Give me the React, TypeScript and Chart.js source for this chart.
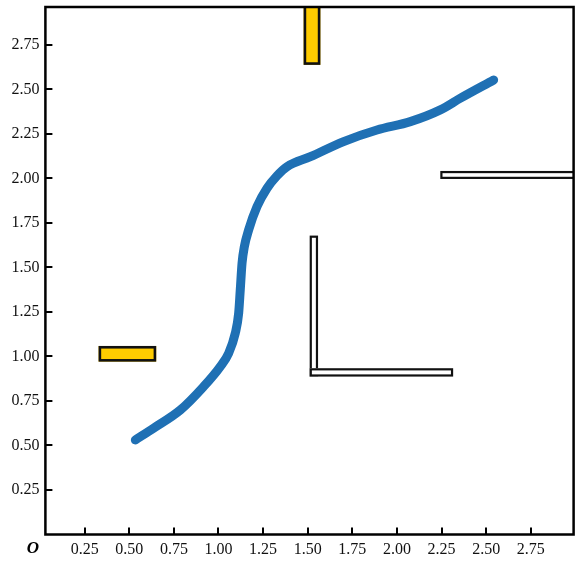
import React, { useEffect, useRef } from "react";
import { Chart, registerables } from "chart.js";

Chart.register(...registerables);

// Blue curve (data coordinates)
const curveX = [0.534, 0.636, 0.786, 0.916, 1.01, 1.057, 1.094, 1.113, 1.122, 1.132, 1.145, 1.169, 1.216, 1.272, 1.328, 1.384, 1.515, 1.701, 1.888, 2.075, 2.243, 2.356, 2.542];
const curveY = [0.531, 0.597, 0.699, 0.83, 0.943, 1.018, 1.13, 1.243, 1.374, 1.524, 1.617, 1.711, 1.842, 1.945, 2.015, 2.066, 2.122, 2.207, 2.272, 2.319, 2.385, 2.451, 2.553];

// Rectangular blocks (data coordinates)
const blockX0 = [0.328, 1.477, 1.511, 1.511, 2.243];
const blockX1 = [0.651, 1.571, 1.558, 2.315, 3.2];
const blockY0 = [0.971, 2.638, 0.887, 0.887, 1.997];
const blockY1 = [1.059, 3.2, 1.679, 0.934, 2.042];
const blockKind = ["yellow", "yellow", "white", "white", "white"];

// Tick labels
const xTickValues = [0.25, 0.5, 0.75, 1.0, 1.25, 1.5, 1.75, 2.0, 2.25, 2.5, 2.75];
const yTickValues = [0.25, 0.5, 0.75, 1.0, 1.25, 1.5, 1.75, 2.0, 2.25, 2.5, 2.75];
const originLabel = "O";

const decorPlugin = {
  id: "decor",
  beforeDatasetsDraw(chart: any) {
    const { ctx, chartArea, scales } = chart;
    const xs = scales.x;
    const ys = scales.y;
    ctx.save();
    ctx.beginPath();
    ctx.rect(chartArea.left, chartArea.top, chartArea.right - chartArea.left, chartArea.bottom - chartArea.top);
    ctx.clip();
    for (let i = 0; i < blockX0.length; i++) {
      const x0 = xs.getPixelForValue(blockX0[i]);
      const x1 = xs.getPixelForValue(blockX1[i]);
      const y0 = ys.getPixelForValue(blockY1[i]);
      const y1 = ys.getPixelForValue(blockY0[i]);
      const yellow = blockKind[i] === "yellow";
      const lw = yellow ? 2.6 : 2.2;
      ctx.fillStyle = yellow ? "#ffcc00" : "#ffffff";
      ctx.strokeStyle = "#111111";
      ctx.lineWidth = lw;
      ctx.fillRect(x0, y0, x1 - x0, y1 - y0);
      ctx.strokeRect(x0 + lw / 2, y0 + lw / 2, x1 - x0 - lw, y1 - y0 - lw);
    }
    ctx.restore();
  },
  afterDraw(chart: any) {
    const { ctx, chartArea, scales } = chart;
    const xs = scales.x;
    const ys = scales.y;
    ctx.save();
    ctx.strokeStyle = "#000";
    ctx.lineWidth = 2.5;
    ctx.strokeRect(chartArea.left, chartArea.top, chartArea.right - chartArea.left, chartArea.bottom - chartArea.top);
    ctx.lineWidth = 2;
    ctx.beginPath();
    xTickValues.forEach((v) => {
      const px = Math.round(xs.getPixelForValue(v));
      ctx.moveTo(px, chartArea.bottom);
      ctx.lineTo(px, chartArea.bottom - 7);
    });
    yTickValues.forEach((v) => {
      const py = Math.round(ys.getPixelForValue(v));
      ctx.moveTo(chartArea.left, py);
      ctx.lineTo(chartArea.left + 7, py);
    });
    ctx.stroke();
    ctx.fillStyle = "#000";
    ctx.font = "bold italic 17px 'Liberation Serif', serif";
    ctx.textAlign = "center";
    ctx.textBaseline = "middle";
    ctx.fillText(originLabel, 33, 549);
    ctx.restore();
  },
};

export default function App() {
  const canvasRef = useRef<HTMLCanvasElement | null>(null);

  useEffect(() => {
    if (!canvasRef.current) return;
    const points = curveX.map((x, i) => ({ x, y: curveY[i] }));
    const tickFont = { family: "'Liberation Serif', 'Times New Roman', serif", size: 16 };
    const chart = new Chart(canvasRef.current, {
      type: "line",
      data: {
        datasets: [
          {
            data: points,
            borderColor: "#1f70b4",
            borderWidth: 9,
            borderCapStyle: "round",
            borderJoinStyle: "round",
            pointRadius: 0,
            cubicInterpolationMode: "monotone",
            fill: false,
          },
        ],
      },
      options: {
        animation: false,
        responsive: false,
        maintainAspectRatio: false,
        layout: { padding: { top: 7, right: 9.4, left: 0, bottom: 0 } },
        plugins: { legend: { display: false }, tooltip: { enabled: false } },
        scales: {
          x: {
            type: "linear",
            min: 0.03,
            max: 2.99,
            afterBuildTicks: (scale: any) => {
              scale.ticks = xTickValues.map((v) => ({ value: v }));
            },
            afterFit: (scale: any) => {
              scale.height = 29.5;
              scale.paddingLeft = 0;
              scale.paddingRight = 0;
            },
            grid: { display: false, drawTicks: false, tickLength: 0 },
            border: { display: false },
            ticks: {
              font: tickFont,
              color: "#111",
              padding: 6,
              maxRotation: 0,
              autoSkip: false,
              callback: (v: any) => Number(v).toFixed(2),
            },
          },
          y: {
            type: "linear",
            min: 0,
            max: 2.963,
            afterBuildTicks: (scale: any) => {
              scale.ticks = yTickValues.map((v) => ({ value: v }));
            },
            afterFit: (scale: any) => {
              scale.width = 45.4;
              scale.paddingTop = 0;
              scale.paddingBottom = 0;
            },
            grid: { display: false, drawTicks: false, tickLength: 0 },
            border: { display: false },
            ticks: {
              font: tickFont,
              color: "#111",
              padding: 6,
              autoSkip: false,
              callback: (v: any) => Number(v).toFixed(2),
            },
          },
        },
      },
      plugins: [decorPlugin],
    } as any);
    return () => chart.destroy();
  }, []);

  return (
    <div style={{ position: "absolute", left: 0, top: 0, width: 583, height: 564, background: "#fff" }}>
      <canvas ref={canvasRef} width={583} height={564} style={{ display: "block" }} />
    </div>
  );
}
